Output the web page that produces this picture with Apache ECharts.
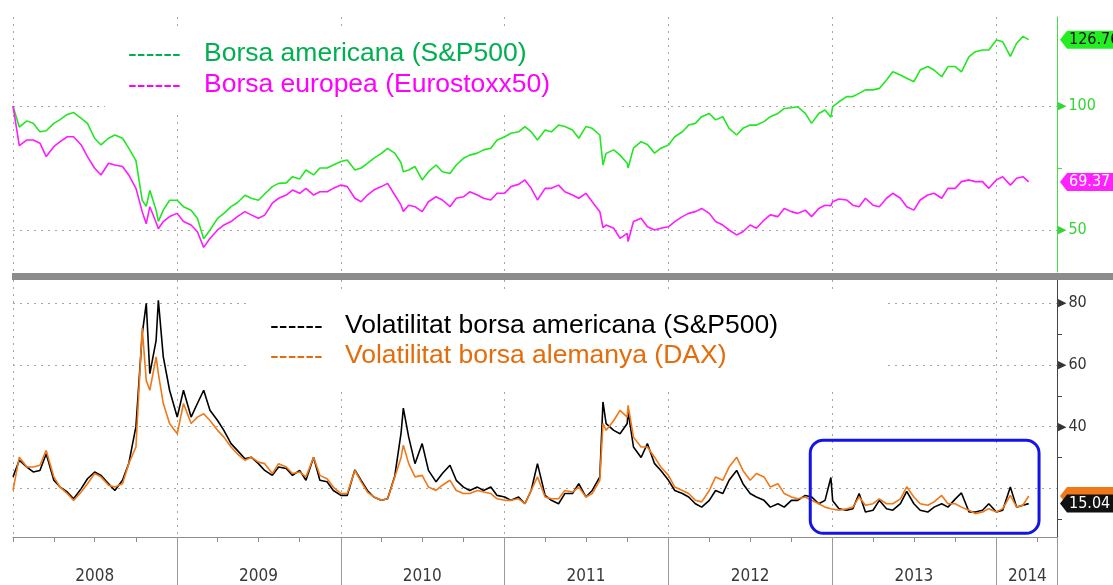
<!DOCTYPE html>
<html>
<head>
<meta charset="utf-8">
<title>Borsa i volatilitat 2008-2014</title>
<script src="https://cdn.jsdelivr.net/npm/echarts@6.0.0/dist/echarts.min.js"></script>
<style>
html, body { margin: 0; padding: 0; background: #fff; }
#main { width: 1113px; height: 585px; }
</style>
</head>
<body>
<div id="main"></div>
<script>
// dates (semi-monthly, with a few extra days where the volatility peaked)
var dates = [
    '2008-01-01','2008-01-15','2008-02-01','2008-02-15','2008-03-01','2008-03-15','2008-04-01','2008-04-15',
    '2008-05-01','2008-05-15','2008-06-01','2008-06-15','2008-07-01','2008-07-15','2008-08-01','2008-08-15',
    '2008-09-01','2008-09-15','2008-10-01','2008-10-15','2008-10-24','2008-11-01','2008-11-15','2008-11-20',
    '2008-12-01','2008-12-15',
    '2009-01-01','2009-01-15','2009-02-01','2009-02-15','2009-03-01','2009-03-15','2009-04-01','2009-04-15',
    '2009-05-01','2009-05-15','2009-06-01','2009-06-15','2009-07-01','2009-07-15','2009-08-01','2009-08-15',
    '2009-09-01','2009-09-15','2009-10-01','2009-10-15','2009-11-01','2009-11-15','2009-12-01','2009-12-15',
    '2010-01-01','2010-01-15','2010-02-01','2010-02-15','2010-03-01','2010-03-15','2010-04-01','2010-04-15',
    '2010-05-01','2010-05-15','2010-05-20','2010-06-01','2010-06-15','2010-07-01','2010-07-15','2010-08-01',
    '2010-08-15','2010-09-01','2010-09-15','2010-10-01','2010-10-15','2010-11-01','2010-11-15','2010-12-01',
    '2010-12-15',
    '2011-01-01','2011-01-15','2011-02-01','2011-02-15','2011-03-01','2011-03-15','2011-04-01','2011-04-15',
    '2011-05-01','2011-05-15','2011-06-01','2011-06-15','2011-07-01','2011-07-15','2011-08-01','2011-08-08',
    '2011-08-15','2011-09-01','2011-09-15','2011-10-01','2011-10-03','2011-10-15','2011-11-01','2011-11-15',
    '2011-12-01','2011-12-15',
    '2012-01-01','2012-01-15','2012-02-01','2012-02-15','2012-03-01','2012-03-15','2012-04-01','2012-04-15',
    '2012-05-01','2012-05-15','2012-06-01','2012-06-15','2012-07-01','2012-07-15','2012-08-01','2012-08-15',
    '2012-09-01','2012-09-15','2012-10-01','2012-10-15','2012-11-01','2012-11-15','2012-12-01','2012-12-15',
    '2012-12-28',
    '2013-01-01','2013-01-15','2013-02-01','2013-02-15','2013-03-01','2013-03-15','2013-04-01','2013-04-15',
    '2013-05-01','2013-05-15','2013-06-01','2013-06-15','2013-07-01','2013-07-15','2013-08-01','2013-08-15',
    '2013-09-01','2013-09-15','2013-10-01','2013-10-15','2013-11-01','2013-11-15','2013-12-01','2013-12-15',
    '2014-01-01','2014-01-15','2014-02-01','2014-02-15','2014-03-01','2014-03-14'
];

// S&P500, base 100
var spx = [
    100, 91.5, 94, 93, 89.6, 90, 93, 94.5, 96.6, 97.4, 95, 93, 87, 84.3, 87, 88.3,
    87, 83, 78, 62, 59.5, 66, 58, 53.5, 58, 62,
    62, 59.4, 58, 54.7, 46.5, 50, 54.7, 56.7, 59.4, 61, 64, 62.8, 62, 64.5, 67.5, 68.8,
    69, 71.5, 70.6, 74.2, 72.2, 75, 75, 76.2,
    77.6, 78.2, 74.2, 75, 76.9, 78.9, 80.9, 82.9, 81, 77, 73.5, 74.2, 75.6, 70.2, 73.5, 76.2,
    73.5, 72.8, 76.2, 78.9, 80.2, 81, 82.3, 83, 86.3,
    87.6, 89, 89.6, 91.7, 89.6, 86.3, 90.3, 89.6, 92.3, 91.7, 90.3, 87, 91.7, 91, 88.3, 76.2,
    80.9, 82.3, 80.2, 76.9, 75, 83, 85.6, 84.5, 81, 83,
    84.3, 87.6, 89.6, 92.3, 93, 95.7, 97, 94.4, 95.7, 91, 88.3, 91, 92.3, 92.3, 93.7, 95.7,
    97, 99, 99.3, 99.7, 97, 93, 97, 98.4, 95.5,
    99.7, 101.7, 103.8, 103.8, 105.1, 106.5, 106.5, 107.1, 110.5, 113.8, 112.5, 111.2, 109.8, 114.5, 115.9, 114.5,
    111.8, 115.9, 115.9, 113.8, 119.9, 121.9, 122.6, 122.6,
    126.6, 125.9, 120, 125.3, 128, 126.76
];

// Eurostoxx50, base 100
var sx5e = [
    100, 84, 86.3, 86.3, 85, 79.6, 83.6, 85.6, 87.6, 87.6, 84.3, 79.6, 74.9, 72.2, 76.9, 76.2,
    75.6, 72.2, 66.8, 57.4, 52.5, 59.4, 53, 50.5, 53.4, 55.4,
    56.7, 53.4, 52, 49.3, 43, 46.6, 50, 52, 53.4, 55.4, 57.4, 56.1, 54.7, 56, 60.8, 62.8,
    64.1, 66.1, 64.8, 66.8, 64.1, 65.4, 65.4, 66.8,
    68.1, 67.5, 62.8, 61.4, 64.1, 66.1, 67.5, 68.8, 64.1, 60, 57.5, 60, 59.4, 57.4, 61.4, 63.4,
    62.1, 59.4, 62.8, 63.4, 65.4, 64.1, 62.8, 62.1, 64.8,
    64.8, 67.5, 68.4, 70.2, 66.8, 62.1, 66.8, 66.8, 68.1, 65.4, 64.1, 62.8, 64.8, 61.4, 57.4, 51,
    52, 50.7, 46.6, 48.6, 45.3, 53.4, 54.7, 51.3, 50, 50.7,
    51.3, 53.4, 55.4, 56.7, 57.4, 58.7, 56.7, 53.4, 52, 50, 48, 49.3, 52, 50.7, 54, 56.1,
    55.4, 58.7, 57.4, 56.7, 58, 55.4, 58.7, 60, 59.8,
    61.4, 62.5, 62.1, 60, 59.4, 62.8, 60, 59.4, 62.8, 64.8, 62.8, 59.4, 58, 62.1, 64.1, 64.8,
    62.8, 66.8, 66.8, 69.5, 70.2, 69.5, 69.5, 66.8,
    70.2, 71.5, 68.1, 70.9, 71.5, 69.37
];

// VIX
var vix = [
    23.7, 29.1, 26.9, 25.3, 25.8, 31.2, 22.6, 20.4, 18.8, 16.6, 19.9, 23.1, 25.3, 24.2, 21.5, 19.3,
    22.6, 28, 40, 70, 80, 57.2, 68, 81, 62.6, 51.8,
    43.1, 51.8, 43.1, 47.5, 51.8, 45.3, 42, 38.8, 34.5, 32.3, 29.6, 30.1, 28, 25.8, 24.2, 26.9,
    26.4, 24.2, 25.8, 22.6, 30.1, 22.6, 22.1, 19.3,
    17.7, 17.7, 26, 22.6, 19.3, 17.2, 16.1, 16.6, 24, 38, 46, 36.6, 28, 34.5, 25.8, 22.1,
    24.8, 27.5, 22.6, 20.4, 19.3, 20.4, 19.3, 20.4, 17.7,
    17.2, 16.1, 17.2, 15, 19.3, 28, 17.7, 16.1, 15, 18.3, 18.3, 21.5, 17.2, 19.3, 23.7, 48,
    41, 38.8, 37.7, 41, 45, 33.4, 30, 34.5, 28, 25.8,
    22.6, 19.3, 18.3, 17.2, 15, 13.9, 16.1, 19.3, 18.3, 22.6, 25.8, 21.5, 18.3, 17.2, 16.1, 13.9,
    15, 13.9, 16.1, 16.1, 17.7, 17.2, 15, 16.1, 23.5,
    16, 13.4, 12.9, 13.4, 18.3, 12.3, 12.9, 16.1, 13.4, 12.9, 15, 19, 15, 12.9, 12.3, 13.9,
    15, 13.9, 16.5, 18.5, 12.3, 12.3, 12.9, 15,
    12.3, 12.9, 20.4, 13.9, 14.5, 15.04
];

// VDAX
var vdax = [
    19.3, 30.1, 26.9, 26.9, 27.5, 32.3, 23.7, 20.4, 18.3, 16.1, 18.8, 21.5, 24.8, 23.7, 21, 20.4,
    21.5, 28, 33.4, 72, 55, 51.8, 62.6, 57.2, 47.5, 41,
    37.7, 47.5, 41, 43.1, 44.2, 42, 38.8, 36.6, 33.4, 31.2, 29.1, 30.1, 28.5, 28, 24.8, 28,
    26.9, 24.8, 25.3, 23.7, 30.1, 24.2, 23.1, 20.4,
    18.3, 18.3, 25.8, 22.1, 18.8, 17.2, 16.1, 16.6, 23.7, 30, 34, 28, 23.7, 24.2, 20.4, 19.3,
    21, 22.6, 19.3, 18.3, 18.3, 19.3, 18.8, 18.3, 16.6,
    16.1, 16.1, 16.6, 15, 19.3, 23.7, 17.2, 16.6, 16.6, 19.3, 18.8, 20.4, 17.2, 18.3, 22.6, 41,
    38.8, 42, 45.3, 43.1, 46.9, 36.6, 33.4, 33.4, 30.1, 26.9,
    24.2, 20.4, 19.3, 18.3, 16.1, 15.6, 19.3, 23.7, 22.6, 26.9, 30.1, 25.8, 22.6, 24.8, 23.7, 20.4,
    21.5, 18.3, 17.2, 16.6, 17.2, 16.1, 15, 13.9, 13.4,
    13.4, 12.9, 13.4, 13.9, 17.2, 14.5, 15, 16.6, 15, 15, 16.6, 20.5, 17.2, 15, 14.5, 15.6,
    17.7, 15, 15, 13.9, 12.9, 11.8, 12.3, 13.4,
    12.3, 13.4, 17.7, 13.9, 14.5, 17.5
];

// axis ticks and labels
var yearTicks = ['2008-01-01','2009-01-01','2010-01-01','2011-01-01','2012-01-01','2013-01-01','2014-01-01'];
var yearLabelPos = ['2008-07-01','2009-07-01','2010-07-01','2011-07-01','2012-07-01','2013-07-01','2014-03-11'];
var quarterTicks = [
    '2008-04-01','2008-07-01','2008-10-01','2009-04-01','2009-07-01','2009-10-01',
    '2010-04-01','2010-07-01','2010-10-01','2011-04-01','2011-07-01','2011-10-01',
    '2012-04-01','2012-07-01','2012-10-01','2013-04-01','2013-07-01','2013-10-01','2014-04-01'
];
var topTicks = [50, 100];
var topMinor = [75];
var botTicks = [20, 40, 60, 80];
var botLabels = [40, 60, 80];   // the 20 label sits under the last-value flags
var botMinor = [10, 30, 50, 70];
var axisStart = '2008-01-01';
var axisEnd = '2014-05-16';
var boxFrom = ['2012-11-12', 35.6];
var boxTo = ['2014-04-06', 5.4];

function ts(s) {
    var p = s.split('-');
    return new Date(+p[0], +p[1] - 1, +p[2]).getTime();
}
function pairs(vals) {
    return dates.map(function (d, i) { return [ts(d), vals[i]]; });
}

var tMin = ts(axisStart), tMax = ts(axisEnd);
var condFont = '"DejaVu Sans Condensed", "Liberation Sans Narrow", "DejaVu Sans", sans-serif';
var dotted = { color: '#a6a6a6', width: 1, type: [2, 5] };

function yLabel(color) {
    return {
        margin: 1,
        formatter: function (v) { return '{t|\u25B6}{v|' + v + '}'; },
        rich: {
            t: { fontSize: 11, color: color, fontFamily: 'DejaVu Sans', padding: [0, 2, 0, 0] },
            v: { fontSize: 16, color: color, fontFamily: condFont }
        }
    };
}

// x axes are plain value axes over timestamps so custom ticks can be used
function xBase(grid) {
    return {
        gridIndex: grid, type: 'value', position: 'bottom', min: tMin, max: tMax,
        axisLine: { show: false, onZero: false },
        axisLabel: { show: false },
        splitLine: { show: false }
    };
}

var myChart = echarts.init(document.getElementById('main'));

var xTop = xBase(0);
xTop.axisTick = { show: false, customValues: yearTicks.map(ts) };
xTop.splitLine = { show: true, lineStyle: dotted };

var xBottom = xBase(1);
xBottom.axisLine = { show: true, onZero: false, lineStyle: { color: '#8c8c8c', width: 1 } };
xBottom.axisTick = { show: true, length: 5, customValues: yearTicks.map(ts), lineStyle: { color: '#8c8c8c' } };
xBottom.axisLabel = {
    customValues: yearLabelPos.map(ts),
    margin: 31,
    color: '#3a3a3a',
    fontSize: 17,
    fontFamily: condFont,
    formatter: function (v) { return String(new Date(v).getFullYear()); }
};
xBottom.splitLine = { show: true, lineStyle: dotted };

// long year separators under the axis
var xYears = xBase(1);
xYears.axisTick = { show: true, length: 48, customValues: yearTicks.slice(1).map(ts).concat([tMax]), lineStyle: { color: '#9a9a9a' } };

// quarter ticks
var xQuarters = xBase(1);
xQuarters.axisTick = { show: true, length: 5, customValues: quarterTicks.map(ts), lineStyle: { color: '#8c8c8c' } };

var option = {
    animation: false,
    backgroundColor: '#fff',
    grid: [
        { left: 13, right: 56, top: 17, height: 255, outerBoundsMode: 'none', containLabel: false },
        { left: 13, right: 56, top: 280, height: 257, outerBoundsMode: 'none', containLabel: false }
    ],
    xAxis: [xTop, xBottom, xYears, xQuarters],
    yAxis: [
        {
            gridIndex: 0, type: 'value', position: 'right', min: 33.06, max: 135.89,
            axisLine: { show: true, onZero: false, lineStyle: { color: '#44dd44', width: 1 } },
            axisTick: { show: false, customValues: topTicks },
            axisLabel: Object.assign({ customValues: topTicks }, yLabel('#33d633')),
            splitLine: { show: true, lineStyle: dotted }
        },
        {
            gridIndex: 0, type: 'value', position: 'right', min: 33.06, max: 135.89,
            axisLine: { show: false },
            axisTick: { show: true, length: 5, customValues: topMinor, lineStyle: { color: '#44dd44' } },
            axisLabel: { show: false },
            splitLine: { show: false }
        },
        {
            gridIndex: 1, type: 'value', position: 'right', min: 4.21, max: 87.56,
            axisLine: { show: true, onZero: false, lineStyle: { color: '#444', width: 1 } },
            axisTick: { show: false, customValues: botTicks },
            axisLabel: Object.assign({ customValues: botLabels }, yLabel('#333')),
            splitLine: { show: true, lineStyle: dotted }
        },
        {
            gridIndex: 1, type: 'value', position: 'right', min: 4.21, max: 87.56,
            axisLine: { show: false },
            axisTick: { show: true, length: 5, customValues: botMinor, lineStyle: { color: '#444' } },
            axisLabel: { show: false },
            splitLine: { show: false }
        }
    ],
    series: [
        {
            name: 'Borsa americana (S&P500)', type: 'line', xAxisIndex: 0, yAxisIndex: 0,
            showSymbol: false, symbol: 'none', data: pairs(spx), z: 2,
            lineStyle: { color: '#22e622', width: 1.6 }
        },
        {
            name: 'Borsa europea (Eurostoxx50)', type: 'line', xAxisIndex: 0, yAxisIndex: 0,
            showSymbol: false, symbol: 'none', data: pairs(sx5e), z: 3,
            lineStyle: { color: '#ff1aff', width: 1.6 }
        },
        {
            name: 'Volatilitat borsa americana (S&P500)', type: 'line', xAxisIndex: 1, yAxisIndex: 2,
            showSymbol: false, symbol: 'none', data: pairs(vix), z: 2,
            lineStyle: { color: '#000', width: 1.6 }
        },
        {
            name: 'Volatilitat borsa alemanya (DAX)', type: 'line', xAxisIndex: 1, yAxisIndex: 2,
            showSymbol: false, symbol: 'none', data: pairs(vdax), z: 3,
            lineStyle: { color: '#f07818', width: 1.6 }
        }
    ]
};
myChart.setOption(option);

function legendText(x, y, txt, color) {
    return {
        type: 'text', x: x, y: y, z: 100,
        style: { text: txt, fill: color, fontSize: 26.5, fontFamily: '"Liberation Sans", Arial, sans-serif', verticalAlign: 'middle' }
    };
}

// last value flags on the right axis
function lastTag(xi, yi, val, fill, color, showText) {
    var p = myChart.convertToPixel({ xAxisIndex: xi, yAxisIndex: yi }, [tMax, val]);
    var x0 = p[0] + 3, y = p[1];
    return [
        {
            type: 'polygon', z: 100,
            shape: { points: [[x0, y], [x0 + 7, y - 9], [x0 + 70, y - 9], [x0 + 70, y + 9], [x0 + 7, y + 9]] },
            style: { fill: fill }
        },
        {
            type: 'text', x: x0 + 9, y: y, z: 101, invisible: !showText,
            style: { text: val.toFixed(2), fill: color, fontSize: 16, fontFamily: condFont, verticalAlign: 'middle' }
        }
    ];
}

var b1 = myChart.convertToPixel({ xAxisIndex: 1, yAxisIndex: 2 }, [ts(boxFrom[0]), boxFrom[1]]);
var b2 = myChart.convertToPixel({ xAxisIndex: 1, yAxisIndex: 2 }, [ts(boxTo[0]), boxTo[1]]);

var graphics = [
    // legend boxes hide the grid behind them
    { type: 'rect', z: 1, shape: { x: 105, y: 31, width: 517, height: 79 }, style: { fill: '#fff' } },
    { type: 'rect', z: 1, shape: { x: 250, y: 293, width: 635, height: 99 }, style: { fill: '#fff' } },
    // panel separator
    { type: 'rect', z: 100, shape: { x: 12, y: 273, width: 1101, height: 7 }, style: { fill: '#8c8c8c' } },
    legendText(128, 55, '------', '#00b050'),
    legendText(204, 54, 'Borsa americana (S&P500)', '#00b050'),
    legendText(128, 86, '------', '#ff00ff'),
    legendText(204, 85, 'Borsa europea (Eurostoxx50)', '#ff00ff'),
    legendText(270, 327, '------', '#000'),
    legendText(345, 326, 'Volatilitat borsa americana (S&P500)', '#000'),
    legendText(270, 357, '------', '#e46c0a'),
    legendText(345, 356, 'Volatilitat borsa alemanya (DAX)', '#e46c0a'),
    {
        type: 'rect', z: 100,
        shape: { x: b1[0], y: b1[1], width: b2[0] - b1[0], height: b2[1] - b1[1], r: 13 },
        style: { fill: 'none', stroke: '#1414e6', lineWidth: 3 }
    }
];
graphics = graphics
    .concat(lastTag(0, 0, spx[spx.length - 1], '#22ee22', '#111', true))
    .concat(lastTag(0, 0, sx5e[sx5e.length - 1], '#ff22ff', '#fff', true))
    .concat(lastTag(1, 2, vdax[vdax.length - 1], '#f07818', '#fff', false))
    .concat(lastTag(1, 2, vix[vix.length - 1], '#111', '#fff', true));

myChart.setOption({ graphic: graphics });
</script>
</body>
</html>
